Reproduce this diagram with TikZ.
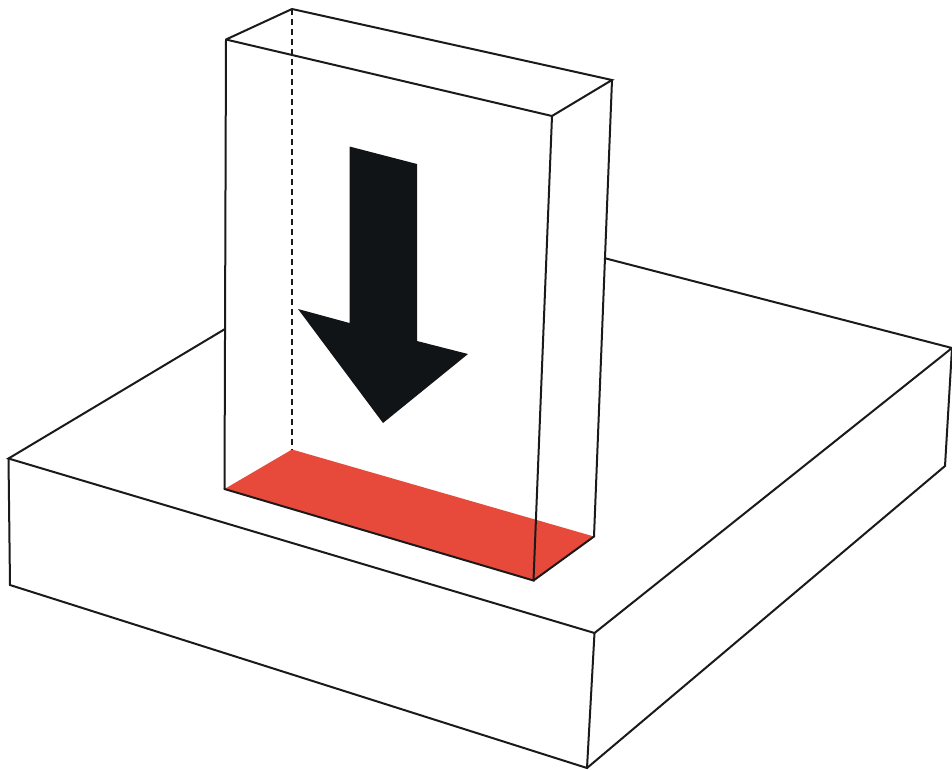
\documentclass[tikz,border=0pt]{standalone}
\definecolor{redface}{HTML}{E74A3B}
\definecolor{arrowblack}{HTML}{111416}
\definecolor{edge}{HTML}{1A1A1A}
\tikzset{
  edgeline/.style={draw=edge,line width=2pt,line join=miter,line cap=round},
  hiddenline/.style={draw=edge,line width=1.3pt,dash pattern=on 6pt off 4pt},
}
\begin{document}
\begin{tikzpicture}[x=1pt,y=-1pt]
\useasboundingbox (0,0) rectangle (952,769);
% block corners
\coordinate (A) at (226,39.5);
\coordinate (B) at (292,9);
\coordinate (C) at (612,80);
\coordinate (D) at (552,116);
\coordinate (E) at (224.5,489);
\coordinate (F) at (292,449.5);
\coordinate (G) at (594,536.5);
\coordinate (H) at (533.5,580.5);
% slab corners
\coordinate (SL) at (8.5,458.5);
\coordinate (SF) at (594.5,633);
\coordinate (SR) at (952,348);
\coordinate (SLb) at (10,585);
\coordinate (SFb) at (587,768);
\coordinate (SRb) at (945,466);
\coordinate (BL) at (225,329);
\coordinate (BR) at (606,258.5);
% slab
\draw[edgeline] (BL) -- (SL) -- (SF) -- (SR) -- (BR);
\draw[edgeline] (SL) -- (SLb) -- (SFb) -- (SRb) -- (SR);
\draw[edgeline] (SF) -- (SFb);
% red base
\fill[redface] (E) -- (F) -- (G) -- (H) -- cycle;
% arrow
\fill[arrowblack] (349.5,146.5) -- (417,164) -- (417,341) -- (468,354) -- (383,423) -- (298,309) -- (349.5,323) -- cycle;
% block
\draw[hiddenline] (B) -- (F);
\draw[edgeline] (E) -- (A) -- (B) -- (C) -- (D) -- (A);
\draw[edgeline] (D) -- (H) -- (E);
\draw[edgeline] (C) -- (G) -- (H);
\end{tikzpicture}
\end{document}
